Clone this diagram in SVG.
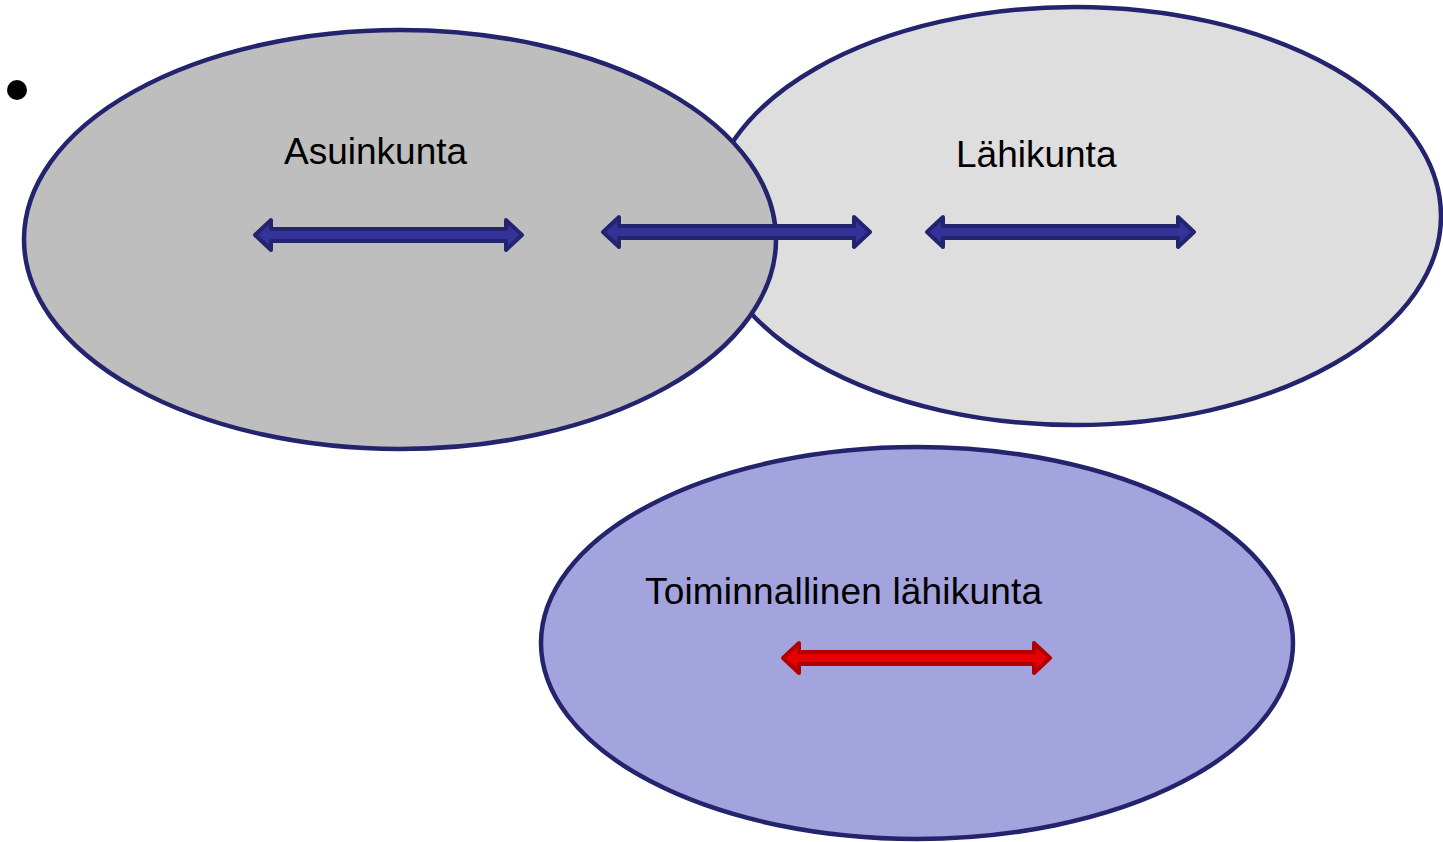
<svg xmlns="http://www.w3.org/2000/svg" width="1443" height="842" viewBox="0 0 1443 842">
<style>
.ell{stroke:#23236E;stroke-width:4.5}
.lbl{font-family:"Liberation Sans",Arial,sans-serif;font-size:37px;fill:#000}
.ab{fill:#333399;stroke:#23236E;stroke-width:4;stroke-linejoin:round}
.ar{fill:#E60000;stroke:#B00000;stroke-width:4;stroke-linejoin:round}
</style>
<defs>
<polygon id="dbl" points="2,0 18,-15 18,-6 253,-6 253,-15 269,0 253,15 253,6 18,6 18,15"/>
</defs>
<rect width="1443" height="842" fill="#fff"/>
<circle cx="17" cy="90" r="10" fill="#000"/>
<g id="lahikunta">
<ellipse class="ell" cx="1075" cy="216" rx="366" ry="209" fill="#DEDEDE"/>
<text class="lbl" x="956" y="167">Lähikunta</text>
</g>
<g id="asuinkunta">
<ellipse class="ell" cx="400" cy="239.5" rx="376" ry="209.5" fill="#BEBEBE"/>
<text class="lbl" x="284" y="164">Asuinkunta</text>
</g>
<g id="toiminnallinen">
<ellipse class="ell" cx="917" cy="643" rx="376" ry="196" fill="#A3A3DE"/>
<text class="lbl" x="645" y="604" textLength="397">Toiminnallinen lähikunta</text>
</g>
<g id="connectors">
<use href="#dbl" class="ab" x="253" y="235"/>
<use href="#dbl" class="ab" x="601" y="232"/>
<use href="#dbl" class="ab" x="925" y="232"/>
<use href="#dbl" class="ar" x="781" y="658"/>
</g>
</svg>
